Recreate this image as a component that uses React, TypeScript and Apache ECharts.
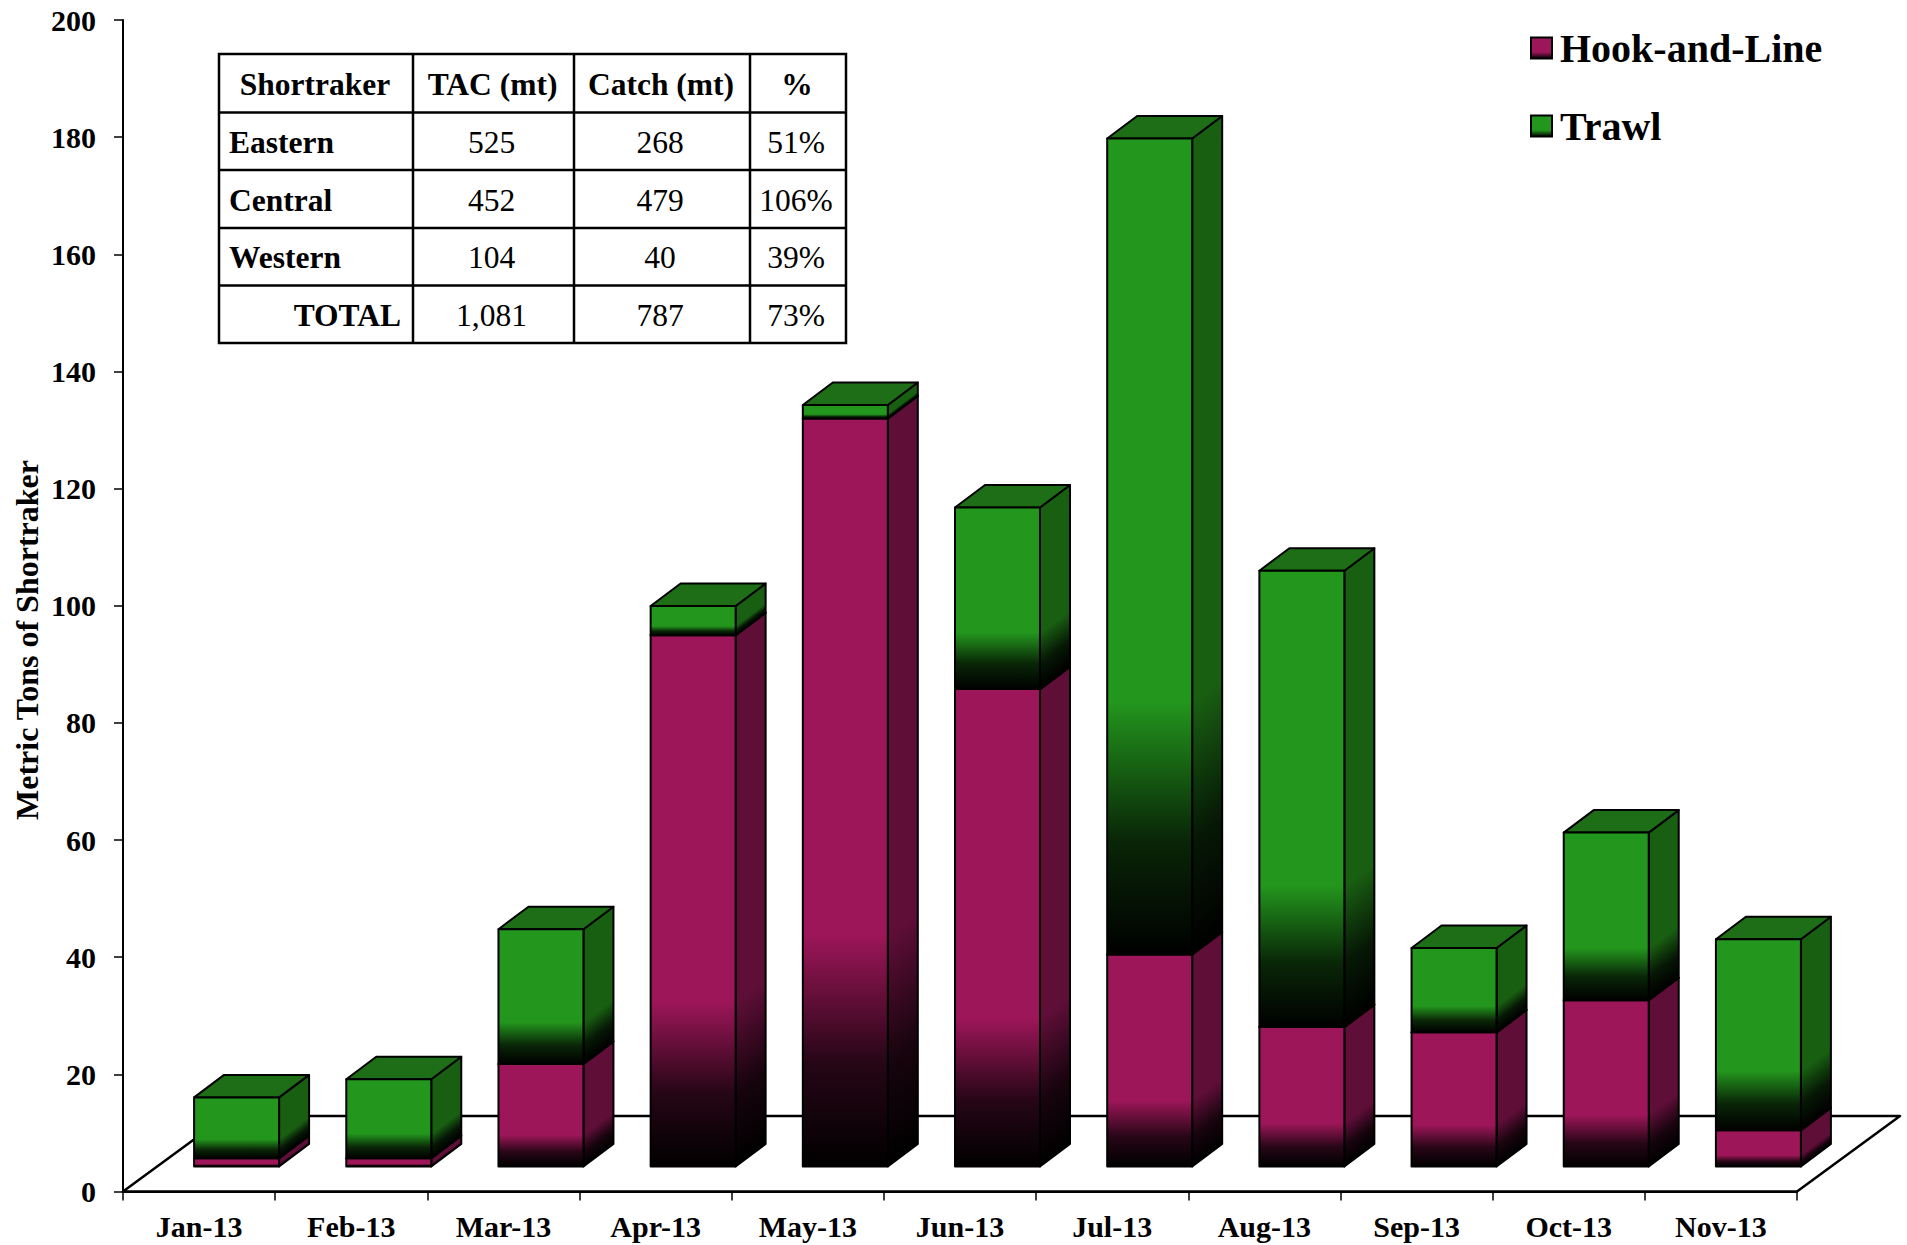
import React, { useEffect, useRef } from "react";
import * as echarts from "echarts";

// ---------- data ----------
const CATEGORIES = ["Jan-13", "Feb-13", "Mar-13", "Apr-13", "May-13", "Jun-13", "Jul-13", "Aug-13", "Sep-13", "Oct-13", "Nov-13"];
const HOOK_AND_LINE = [1.4, 1.4, 17.5, 90.7, 127.7, 81.5, 36.2, 23.8, 22.9, 28.4, 6.2];
const TRAWL = [10.4, 13.5, 23.0, 5.0, 2.3, 31.0, 139.3, 77.9, 14.4, 28.6, 32.6];
const SERIES_NAMES = ["Hook-and-Line", "Trawl"];
const Y_MIN = 0;
const Y_MAX = 200;
const Y_INTERVAL = 20;
const Y_TITLE = "Metric Tons of Shortraker";

const TABLE_HEADER = ["Shortraker", "TAC (mt)", "Catch (mt)", "%"];
const TABLE_REGIONS = ["Eastern", "Central", "Western", "TOTAL"];
const TABLE_TAC = ["525", "452", "104", "1,081"];
const TABLE_CATCH = ["268", "479", "40", "787"];
const TABLE_PCT = ["51%", "106%", "39%", "73%"];

// ---------- style / layout ----------
const FONT = "'Liberation Serif', 'Times New Roman', Times, serif";
const W = 1907;
const H = 1245;
const GRID_LEFT = 123;
const GRID_RIGHT_X = 1797;
const GRID_TOP = 20;
const GRID_BOTTOM_Y = 1191.5;
const FLOOR_DX = 103;
const FLOOR_DY = -75.5;
const BAR_SHIFT_X = 37.5;
const BAR_SHIFT_Y = -25;
const BAR_W_FRAC = 85 / 152.2;
const DEPTH_X = 30;
const DEPTH_Y = -22.5;

const PINK = { front: "#9d1659", side: "#5f0e38", top: "#6f1042" };
const GREEN = { front: "#23961d", side: "#195f12", top: "#1d6e16" };

const TABLE_COLS = [219, 413, 574, 750, 846];
const TABLE_ROWS = [54, 112.5, 170, 228, 285.5, 343];
const TABLE_FONT_SIZE = 31.5;

function stops(c: string) {
  return [
    { offset: 0, color: c },
    { offset: 0.69, color: c },
    { offset: 0.86, color: echarts.color.lerp(0.75, [c, "#000000"]) as string },
    { offset: 1, color: "#000000" },
  ];
}

function makeRender(colors: { front: string; side: string; top: string }) {
  return (params: any, api: any) => {
    const idx = api.value(0);
    const p0 = api.coord([idx, api.value(1)]);
    const p1 = api.coord([idx, api.value(2)]);
    const band = api.size([1, 0])[0];
    const bw = band * BAR_W_FRAC;
    const x0 = p0[0] + BAR_SHIFT_X - bw / 2;
    const x1 = x0 + bw;
    const yB = p0[1] + BAR_SHIFT_Y;
    const yT = p1[1] + BAR_SHIFT_Y;
    const h = Math.max(yB - yT, 0.5);
    const L = 0.8 * h;
    const frontFill = new echarts.graphic.LinearGradient(0, 0, 0, 1, stops(colors.front));
    const sideFill = new echarts.graphic.LinearGradient(x1, yT, x1 + 0.6 * L, yT + 0.8 * L, stops(colors.side), true);
    const stroke = { stroke: "#000", lineWidth: 2, lineJoin: "round" };
    return {
      type: "group",
      children: [
        {
          type: "polygon",
          shape: { points: [[x1, yB], [x1 + DEPTH_X, yB + DEPTH_Y], [x1 + DEPTH_X, yT + DEPTH_Y], [x1, yT]] },
          style: { fill: sideFill, ...stroke },
        },
        {
          type: "polygon",
          shape: { points: [[x0, yT], [x0 + DEPTH_X, yT + DEPTH_Y], [x1 + DEPTH_X, yT + DEPTH_Y], [x1, yT]] },
          style: { fill: colors.top, ...stroke },
        },
        {
          type: "rect",
          shape: { x: x0, y: yT, width: bw, height: h },
          style: { fill: frontFill, ...stroke },
        },
      ],
    };
  };
}

function buildTable(): any[] {
  const els: any[] = [];
  const left = TABLE_COLS[0];
  const right = TABLE_COLS[TABLE_COLS.length - 1];
  const top = TABLE_ROWS[0];
  const bottom = TABLE_ROWS[TABLE_ROWS.length - 1];
  els.push({
    type: "rect",
    z: 5,
    shape: { x: left, y: top, width: right - left, height: bottom - top },
    style: { fill: "#fff", stroke: "#000", lineWidth: 2.5 },
  });
  for (let i = 1; i < TABLE_ROWS.length - 1; i++) {
    els.push({ type: "line", z: 6, shape: { x1: left, y1: TABLE_ROWS[i], x2: right, y2: TABLE_ROWS[i] }, style: { stroke: "#000", lineWidth: 2.5 } });
  }
  for (let i = 1; i < TABLE_COLS.length - 1; i++) {
    els.push({ type: "line", z: 6, shape: { x1: TABLE_COLS[i], y1: top, x2: TABLE_COLS[i], y2: bottom }, style: { stroke: "#000", lineWidth: 2.5 } });
  }
  const txt = (s: string, x: number, y: number, align: string, bold: boolean) => ({
    type: "text",
    z: 7,
    x,
    y,
    style: { text: s, fill: "#000", font: `${bold ? "bold " : ""}${TABLE_FONT_SIZE}px ${FONT}`, align, verticalAlign: "middle" },
  });
  const cx = (c: number) => (TABLE_COLS[c] + TABLE_COLS[c + 1]) / 2 - 2;
  const cy = (r: number) => (TABLE_ROWS[r] + TABLE_ROWS[r + 1]) / 2 + 1;
  TABLE_HEADER.forEach((h, c) => els.push(txt(h, cx(c) + 1, cy(0), "center", true)));
  TABLE_REGIONS.forEach((name, r) => {
    const isTotal = r === TABLE_REGIONS.length - 1;
    els.push(txt(name, isTotal ? TABLE_COLS[1] - 12 : TABLE_COLS[0] + 10, cy(r + 1), isTotal ? "right" : "left", true));
    els.push(txt(TABLE_TAC[r], cx(1), cy(r + 1), "center", false));
    els.push(txt(TABLE_CATCH[r], cx(2), cy(r + 1), "center", false));
    els.push(txt(TABLE_PCT[r], cx(3), cy(r + 1), "center", false));
  });
  return els;
}

export default function App() {
  const ref = useRef<HTMLDivElement>(null);
  useEffect(() => {
    if (!ref.current) return;
    const chart = echarts.init(ref.current, null, { renderer: "svg", width: W, height: H });
    const hookData = CATEGORIES.map((_, i) => [i, 0, HOOK_AND_LINE[i]]);
    const trawlData = CATEGORIES.map((_, i) => [i, HOOK_AND_LINE[i], HOOK_AND_LINE[i] + TRAWL[i]]);
    const legendGrad = (c: string) =>
      new echarts.graphic.LinearGradient(0, 0, 0, 1, [
        { offset: 0, color: c },
        { offset: 0.7, color: c },
        { offset: 1, color: "#000" },
      ]);
    chart.setOption({
      animation: false,
      backgroundColor: "#fff",
      grid: { left: GRID_LEFT, right: W - GRID_RIGHT_X, top: GRID_TOP, bottom: H - GRID_BOTTOM_Y, containLabel: false },
      legend: {
        orient: "vertical",
        left: 1530,
        top: 28,
        padding: 0,
        itemWidth: 21,
        itemHeight: 21,
        itemGap: 38,
        selectedMode: false,
        textStyle: { fontSize: 40, fontWeight: "bold", fontFamily: FONT, color: "#000", padding: [0, 0, 0, 3] },
        data: [
          { name: SERIES_NAMES[0], icon: "rect", itemStyle: { color: legendGrad(PINK.front), borderColor: "#000", borderWidth: 2 } },
          { name: SERIES_NAMES[1], icon: "rect", itemStyle: { color: legendGrad(GREEN.front), borderColor: "#000", borderWidth: 2 } },
        ],
      },
      xAxis: {
        type: "category",
        data: CATEGORIES,
        boundaryGap: true,
        axisLine: { lineStyle: { color: "#000", width: 2 } },
        axisTick: { show: true, length: 9, lineStyle: { color: "#000", width: 1.5 } },
        axisLabel: { fontSize: 30, fontWeight: "bold", fontFamily: FONT, color: "#000", margin: 20, interval: 0 },
        splitLine: { show: false },
      },
      yAxis: {
        type: "value",
        min: Y_MIN,
        max: Y_MAX,
        interval: Y_INTERVAL,
        axisLine: { show: true, lineStyle: { color: "#000", width: 2 } },
        axisTick: { show: true, length: 9, lineStyle: { color: "#000", width: 1.5 } },
        axisLabel: { fontSize: 30, fontWeight: "bold", fontFamily: FONT, color: "#000", margin: 27 },
        splitLine: { show: false },
      },
      graphic: [
        {
          type: "polygon",
          z: 1,
          silent: true,
          shape: {
            points: [
              [GRID_LEFT, GRID_BOTTOM_Y],
              [GRID_RIGHT_X, GRID_BOTTOM_Y],
              [GRID_RIGHT_X + FLOOR_DX, GRID_BOTTOM_Y + FLOOR_DY],
              [GRID_LEFT + FLOOR_DX, GRID_BOTTOM_Y + FLOOR_DY],
            ],
          },
          style: { fill: "#fff", stroke: "#000", lineWidth: 2.5, lineJoin: "round" },
        },
        {
          type: "text",
          z: 5,
          x: 27,
          y: 640,
          rotation: Math.PI / 2,
          style: { text: Y_TITLE, fill: "#000", font: `bold 32px ${FONT}`, align: "center", verticalAlign: "middle" },
        },
        ...buildTable(),
      ],
      series: [
        {
          type: "custom",
          name: SERIES_NAMES[0],
          z: 3,
          itemStyle: { color: PINK.front },
          renderItem: makeRender(PINK),
          encode: { x: 0, y: [1, 2] },
          data: hookData,
        },
        {
          type: "custom",
          name: SERIES_NAMES[1],
          z: 4,
          itemStyle: { color: GREEN.front },
          renderItem: makeRender(GREEN),
          encode: { x: 0, y: [1, 2] },
          data: trawlData,
        },
      ],
    });
    return () => chart.dispose();
  }, []);
  return <div ref={ref} style={{ position: "absolute", left: 0, top: 0, width: W + "px", height: H + "px" }} />;
}
